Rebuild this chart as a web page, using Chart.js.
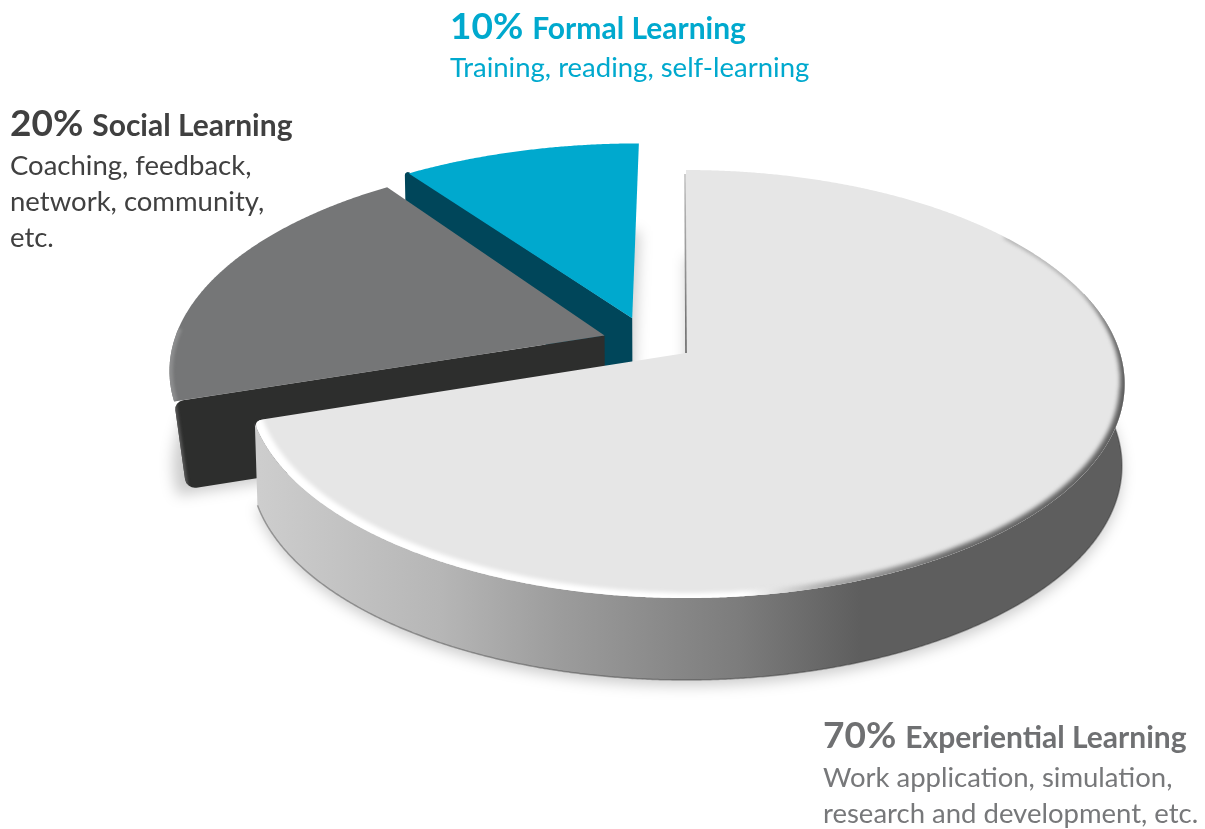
<!DOCTYPE html>
<html>
<head>
<meta charset="utf-8">
<title>70-20-10 learning model</title>
<script src="https://cdn.jsdelivr.net/npm/chart.js@4/dist/chart.umd.min.js"></script>
<style>
  html, body { margin: 0; background: #fff; }
  canvas { display: block; }
</style>
</head>
<body>
<canvas id="pie" width="1205" height="829"></canvas>
<script>
const categories = ["Experiential Learning", "Social Learning", "Formal Learning"];
const shares = [70, 20, 10];
const descriptions = [
  ["Work application, simulation,", "research and development, etc."],
  ["Coaching, feedback,", "network, community,", "etc."],
  ["Training, reading, self-learning"],
];

// colours per slice: top face, cut face
const topColors = ["#e6e6e6", "#757677", "#00a9ce"];
const cutColors = ["#8a8a8a", "#2d2e2d", "#00465a"];

// pie plane -> screen
const view = { ax: 686, ay: 353, kx: 434, ky: 209.5, dist: 6.9, depth: 82 };
// how far each slice is pulled out, in pie radii
const pullOut = [[0, 0], [-0.19, -0.085], [-0.127, -0.17]];
const widen = [1, 1, 1.025];
const thickness = [1, 1.07, 1];

function project(i, r, a, h) {
  const u = r * Math.cos(a) * widen[i] + pullOut[i][0];
  const v = r * Math.sin(a) + pullOut[i][1];
  const w = view.dist / (view.dist - v);
  return {
    x: view.ax + view.kx * (1 - 0.006 * h) * u * w,
    y: view.ay + view.ky * v * w + h * view.depth,
  };
}

function arcPoints(i, r, a0, a1, h) {
  const pts = [];
  const n = Math.ceil(Math.abs(a1 - a0) * 200);
  for (let k = 0; k <= n; k++) pts.push(project(i, r, a0 + (a1 - a0) * k / n, h));
  return pts;
}

function tracePoly(ctx, pts) {
  ctx.beginPath();
  pts.forEach((p, k) => (k ? ctx.lineTo(p.x, p.y) : ctx.moveTo(p.x, p.y)));
  ctx.closePath();
}

function traceLine(ctx, pts) {
  ctx.beginPath();
  pts.forEach((p, k) => (k ? ctx.lineTo(p.x, p.y) : ctx.moveTo(p.x, p.y)));
}

function sectorPoints(i, arc, h) {
  return [project(i, 0, 0, h)].concat(arcPoints(i, arc.r, arc.a0, arc.a1, h));
}

// top face; the big slice gets a rounded corner at the end of its arc
function traceTop(ctx, i, arc) {
  if (i !== 0) {
    tracePoly(ctx, sectorPoints(i, arc, 0));
    return;
  }
  const apex = project(i, 0, 0, 0);
  const corner = project(i, arc.r, arc.a1, 0);
  const len = Math.hypot(apex.x - corner.x, apex.y - corner.y);
  const t = 10 / len;
  traceLine(ctx, [apex].concat(arcPoints(i, arc.r, arc.a0, arc.a1 - 0.03, 0)));
  ctx.quadraticCurveTo(corner.x, corner.y,
    corner.x + (apex.x - corner.x) * t, corner.y + (apex.y - corner.y) * t);
  ctx.closePath();
}

function mainWallFill(ctx) {
  const g = ctx.createLinearGradient(260, 0, 860, 0);
  g.addColorStop(0, "#cdcdcd");
  g.addColorStop(0.3, "#b6b6b6");
  g.addColorStop(0.5, "#9c9c9c");
  g.addColorStop(0.8, "#7c7c7c");
  g.addColorStop(1, "#5e5e5e");
  return g;
}

// soft rim on the top face: white towards the front left, dark towards the right
function drawRim(ctx, arc) {
  const off = document.createElement("canvas");
  off.width = ctx.canvas.width;
  off.height = ctx.canvas.height;
  const o = off.getContext("2d");
  const g = o.createLinearGradient(260, 0, 1125, 0);
  g.addColorStop(0, "#ffffff");
  g.addColorStop(0.56, "#ffffff");
  g.addColorStop(0.66, "#a8a8a8");
  g.addColorStop(0.8, "#6a6a6a");
  g.addColorStop(1, "#5e5e5e");
  o.strokeStyle = g;
  o.lineCap = "round";
  const pts = arcPoints(0, arc.r, arc.a0, arc.a1, 0);
  for (let k = 1; k < pts.length; k++) {
    const a = arc.a0 + (arc.a1 - arc.a0) * k / (pts.length - 1);
    const s = Math.sin(a);
    if (s < -0.6) continue;
    const front = Math.min(1, Math.max(0, (s + 0.3) / 0.5));
    const left = pts[k].x < view.ax ? 7 * (view.ax - pts[k].x) / 426 : 0;
    o.lineWidth = 1.5 + 8.5 * front + left;
    o.beginPath();
    o.moveTo(pts[k - 1].x, pts[k - 1].y);
    o.lineTo(pts[k].x, pts[k].y);
    o.stroke();
  }
  ctx.save();
  traceTop(ctx, 0, arc);
  ctx.clip();
  ctx.filter = "blur(2px)";
  ctx.drawImage(off, 0, 0);
  ctx.restore();
}

function drawMainWall(ctx, arc) {
  const from = -0.3;
  const to = arc.a1 - 0.012;
  const upper = arcPoints(0, arc.r, from, to, 0);
  const lower = arcPoints(0, arc.r, from, to, 1);
  ctx.beginPath();
  for (let k = 1; k < upper.length; k++) {
    ctx.moveTo(upper[k - 1].x, upper[k - 1].y);
    ctx.lineTo(upper[k].x, upper[k].y);
    ctx.lineTo(lower[k].x, lower[k].y);
    ctx.lineTo(lower[k - 1].x, lower[k - 1].y);
    ctx.closePath();
  }
  ctx.fillStyle = mainWallFill(ctx);
  ctx.fill();

  traceLine(ctx, lower);
  ctx.strokeStyle = "rgba(50,50,50,0.4)";
  ctx.lineWidth = 1.5;
  ctx.stroke();
}

// cut face turned towards the viewer, with rounded outer corners
function drawCutFace(ctx, i, arc) {
  const h = thickness[i];
  const p0 = project(i, arc.r, arc.a0, 0);
  const p1 = project(i, arc.r, arc.a0, h);
  const p2 = project(i, 0, 0, h);
  const p3 = project(i, 0, 0, 0);
  const lip = i === 2 ? 4 : 0;
  const foot = { x: p1.x + (i === 1 ? 9 : -lip), y: p1.y };
  ctx.save();
  ctx.beginPath();
  ctx.moveTo(p3.x, p3.y);
  ctx.arcTo(p0.x - lip, p0.y - lip, foot.x, foot.y, i === 2 ? 3 : 9);
  ctx.arcTo(foot.x, foot.y, p2.x, p2.y, 10);
  ctx.lineTo(p2.x, p2.y);
  ctx.closePath();
  ctx.fillStyle = cutColors[i];
  ctx.fill();
  if (i === 1) {
    // slightly lighter left edge
    ctx.clip();
    ctx.filter = "blur(1.5px)";
    ctx.beginPath();
    ctx.moveTo(p0.x, p0.y);
    ctx.lineTo(foot.x, foot.y);
    ctx.strokeStyle = "#5a5a5a";
    ctx.lineWidth = 4;
    ctx.stroke();
  }
  ctx.restore();
}

function drawSlice(ctx, i, arc) {
  if (i === 0) drawMainWall(ctx, arc);
  else drawCutFace(ctx, i, arc);

  traceTop(ctx, i, arc);
  ctx.fillStyle = topColors[i];
  ctx.fill();

  if (i === 0) {
    drawRim(ctx, arc);
    // thin edge where the slice starts at twelve o'clock
    const a = project(0, 0, 0, 0);
    const b = project(0, arc.r, arc.a0, 0);
    ctx.beginPath();
    ctx.moveTo(b.x - 1, b.y + 4);
    ctx.lineTo(a.x, a.y);
    const g = ctx.createLinearGradient(0, b.y, 0, a.y);
    g.addColorStop(0, "#c4c4c4");
    g.addColorStop(1, "#666666");
    ctx.strokeStyle = g;
    ctx.lineWidth = 1.6;
    ctx.stroke();
  } else if (i === 1) {
    // lighter outer rim of the social slice
    ctx.save();
    traceTop(ctx, i, arc);
    ctx.clip();
    ctx.filter = "blur(1.5px)";
    traceLine(ctx, arcPoints(i, arc.r, arc.a0, arc.a0 + 0.35, 0));
    ctx.strokeStyle = "#8c8d8e";
    ctx.lineWidth = 7;
    ctx.stroke();
    ctx.restore();
  }
}

const pie3d = {
  id: "pie3d",
  beforeDatasetsDraw(chart) {
    const ctx = chart.ctx;
    const meta = chart.getDatasetMeta(0);
    const radius = meta.controller.outerRadius;
    const arcs = meta.data.map(el => ({
      r: el.outerRadius / radius,
      a0: el.startAngle,
      a1: el.endAngle,
    }));

    // soft shadow below each slice
    ctx.save();
    ctx.filter = "blur(7px)";
    ctx.fillStyle = "rgba(0,0,0,0.2)";
    arcs.forEach((arc, i) => {
      tracePoly(ctx, sectorPoints(i, arc, thickness[i] * 1.07));
      ctx.fill();
    });
    ctx.restore();

    // back to front
    [2, 1, 0].forEach(i => drawSlice(ctx, i, arcs[i]));
    return false;
  },
  afterDraw(chart) {
    const ctx = chart.ctx;
    const blocks = [
      { x: 823, y: 748, gap: [39, 75], pct: "#6f7072", body: "#77787a" },
      { x: 10, y: 136, gap: [39, 75, 111], pct: "#404040", body: "#404040" },
      { x: 450, y: 39, gap: [38], pct: "#00a9ce", body: "#00a9ce" },
    ];
    ctx.save();
    ctx.textBaseline = "alphabetic";
    blocks.forEach((b, i) => {
      const pct = chart.data.datasets[0].data[i] + "%";
      ctx.font = "bold 37px Lato";
      ctx.fillStyle = b.pct;
      ctx.fillText(pct, b.x, b.y);
      const w = ctx.measureText(pct).width;
      ctx.font = "bold 30px Lato";
      ctx.fillText(chart.data.labels[i], b.x + w + 9, b.y);
      ctx.font = "27.5px Lato";
      ctx.fillStyle = b.body;
      descriptions[i].forEach((line, k) => ctx.fillText(line, b.x, b.y + b.gap[k]));
    });
    ctx.restore();
  },
};

new Chart(document.getElementById("pie"), {
  type: "pie",
  data: {
    labels: categories,
    datasets: [{ data: shares, backgroundColor: topColors, borderWidth: 0 }],
  },
  options: {
    responsive: false,
    animation: false,
    plugins: { legend: { display: false }, tooltip: { enabled: false } },
  },
  plugins: [pie3d],
});
</script>
</body>
</html>
